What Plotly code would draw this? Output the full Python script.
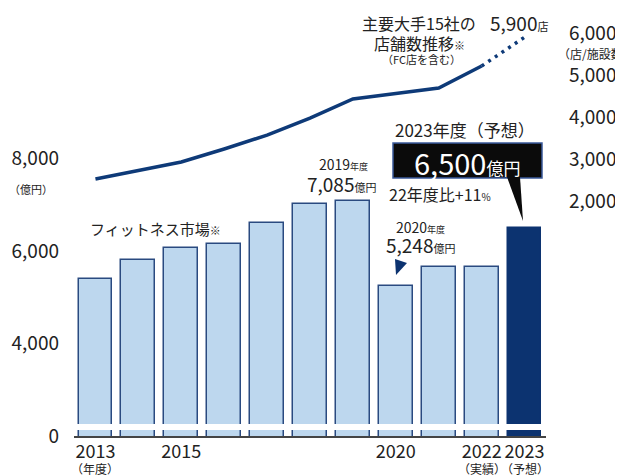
import plotly.graph_objects as go

# ---- data ----
years = [2013, 2014, 2015, 2016, 2017, 2018, 2019, 2020, 2021, 2022, 2023]
market = [5392, 5805, 6059, 6158, 6601, 7020, 7085, 5248, 5646, 5659, 6500]   # 億円
stores = [2524, 2726, 2929, 3238, 3571, 3976, 4429, 4560, 4690, 5214, 5900]   # 店/施設数
x_tickvals = [2013, 2015, 2020, 2022, 2023]
x_ticktext = ["2013", "2015", "2020", "2022", "2023"]
x_sublabels = {2013: "（年度）", 2022: "（実績）", 2023: "（予想）"}
left_tickvals = [4000, 6000, 8000]
left_ticktext = ["4,000", "6,000", "8,000"]
right_tickvals = [2000, 3000, 4000, 5000, 6000]
right_ticktext = ["2,000", "3,000", "4,000", "5,000", "6,000"]

# ---- style ----
FONT = "Noto Sans CJK JP"
TXT = "#222222"
LIGHT = "#bdd7ee"
EDGE = "#2a4a80"
DARK = "#0c3370"
LINE = "#0e3a78"
OFF = 8                      # page body margin of the browser
W, H = 623 - OFF, 475 - OFF
ML, MR, MT, MB = 74 - OFF, 77, 20 - OFF, 39
PW, PH = W - ML - MR, H - MT - MB
Y_BOTTOM = 1985      # value shown as "0" (broken axis)
Y_TOP = 11013
Y2_RANGE = [-3595, 6310]


def px(x):
    return (x - OFF - ML) / PW


def py(y):
    return (H - MB - (y - OFF)) / PH


fig = go.Figure()
fig.add_trace(go.Bar(
    x=years, y=market, width=0.79,
    marker=dict(color=[LIGHT] * (len(years) - 1) + [DARK],
                line=dict(color=[EDGE] * (len(years) - 1) + [DARK], width=1.5)),
    hoverinfo="skip"))
fig.add_trace(go.Scatter(
    x=years[:-1], y=stores[:-1], yaxis="y2", mode="lines",
    line=dict(color=LINE, width=3.5), hoverinfo="skip"))
fig.add_trace(go.Scatter(
    x=years[-2:], y=stores[-2:], yaxis="y2", mode="lines",
    line=dict(color=LINE, width=3.5, dash="3px,5px"), hoverinfo="skip"))

shapes = [
    # broken-axis white band
    dict(type="rect", xref="paper", yref="y", x0=0, x1=0.995, y0=2116, y1=2246,
         fillcolor="white", line=dict(width=0), layer="above"),
    # callout box
    dict(type="rect", xref="paper", yref="paper", x0=px(393), x1=px(542), y0=py(178), y1=py(143),
         fillcolor="#0b0b0b", line=dict(color="#3a5a9a", width=1.5)),
    # callout pointer
    dict(type="path", xref="paper", yref="paper",
         path=f"M {px(507)} {py(177)} L {px(520)} {py(177)} L {px(523)} {py(221)} Z",
         fillcolor="#0b0b0b", line=dict(width=0)),
    # 2020 pointer triangle
    dict(type="path", xref="paper", yref="paper",
         path=f"M {px(395)} {py(259)} L {px(407)} {py(263)} L {px(396)} {py(275)} Z",
         fillcolor=DARK, line=dict(width=0)),
]


def ann(text, x, y, size, color=TXT, xanchor="center"):
    return dict(text=text, x=px(x), y=py(y), xref="paper", yref="paper",
                showarrow=False, xanchor=xanchor, yanchor="middle",
                font=dict(family=FONT, size=size, color=color))


def s(t, size):
    return f"<span style='font-size:{size}px'>{t}</span>"


annotations = [
    ann("主要大手15社の", 419, 23, 16),
    ann("店舗数推移" + s("※", 11), 419, 43, 16),
    ann("（FC店を含む）", 421, 59, 11),
    ann("5,900" + s("店", 11), 519, 23, 19),
    ann("（店/施設数）", 556, 53, 12, xanchor="left"),
    ann("（億円）", 31, 189, 11),
    ann("フィットネス市場" + s("※", 11), 155, 228, 15),
    ann("2019" + s("年度", 9), 343, 164, 14),
    ann("7,085" + s("億円", 11), 341, 183, 19),
    ann("22年度比+11" + s("%", 10), 440, 194, 16),
    ann("2020" + s("年度", 9), 420, 227, 14),
    ann("5,248" + s("億円", 11), 420, 244, 19),
    ann("2023年度（予想）", 465, 130, 17),
    ann("6,500" + s("億円", 17), 467, 162, 29, color="white"),
]
for yr, lab in x_sublabels.items():
    annotations.append(dict(text=lab, x=yr, y=py(468.5), xref="x", yref="paper",
                            showarrow=False, xanchor="center", yanchor="middle",
                            font=dict(family=FONT, size=12, color=TXT)))

fig.update_layout(
    width=W, height=H, autosize=False,
    margin=dict(l=ML, r=MR, t=MT, b=MB, autoexpand=False),
    paper_bgcolor="white", plot_bgcolor="white",
    showlegend=False, bargap=0,
    font=dict(family=FONT, color=TXT),
    xaxis=dict(range=[2012.5, 2023.5], tickvals=x_tickvals, ticktext=x_ticktext,
               tickfont=dict(family=FONT, size=18, color=TXT), automargin=False,
               tickangle=0, ticklabelstandoff=-1,
               showline=True, linecolor="#444444", linewidth=1.5,
               showgrid=False, zeroline=False, ticks=""),
    yaxis=dict(range=[Y_BOTTOM, Y_TOP], tickvals=[Y_BOTTOM] + left_tickvals,
               ticktext=["0"] + left_ticktext, automargin=False,
               tickfont=dict(family=FONT, size=19, color=TXT),
               showgrid=False, zeroline=False, showline=False, ticklabelstandoff=14),
    yaxis2=dict(range=Y2_RANGE, overlaying="y", side="right", automargin=False,
                tickvals=right_tickvals, ticktext=right_ticktext,
                tickfont=dict(family=FONT, size=19, color=TXT),
                showgrid=False, zeroline=False, showline=False, ticklabelstandoff=22),
    shapes=shapes, annotations=annotations,
)

fig.write_html("out.html")
